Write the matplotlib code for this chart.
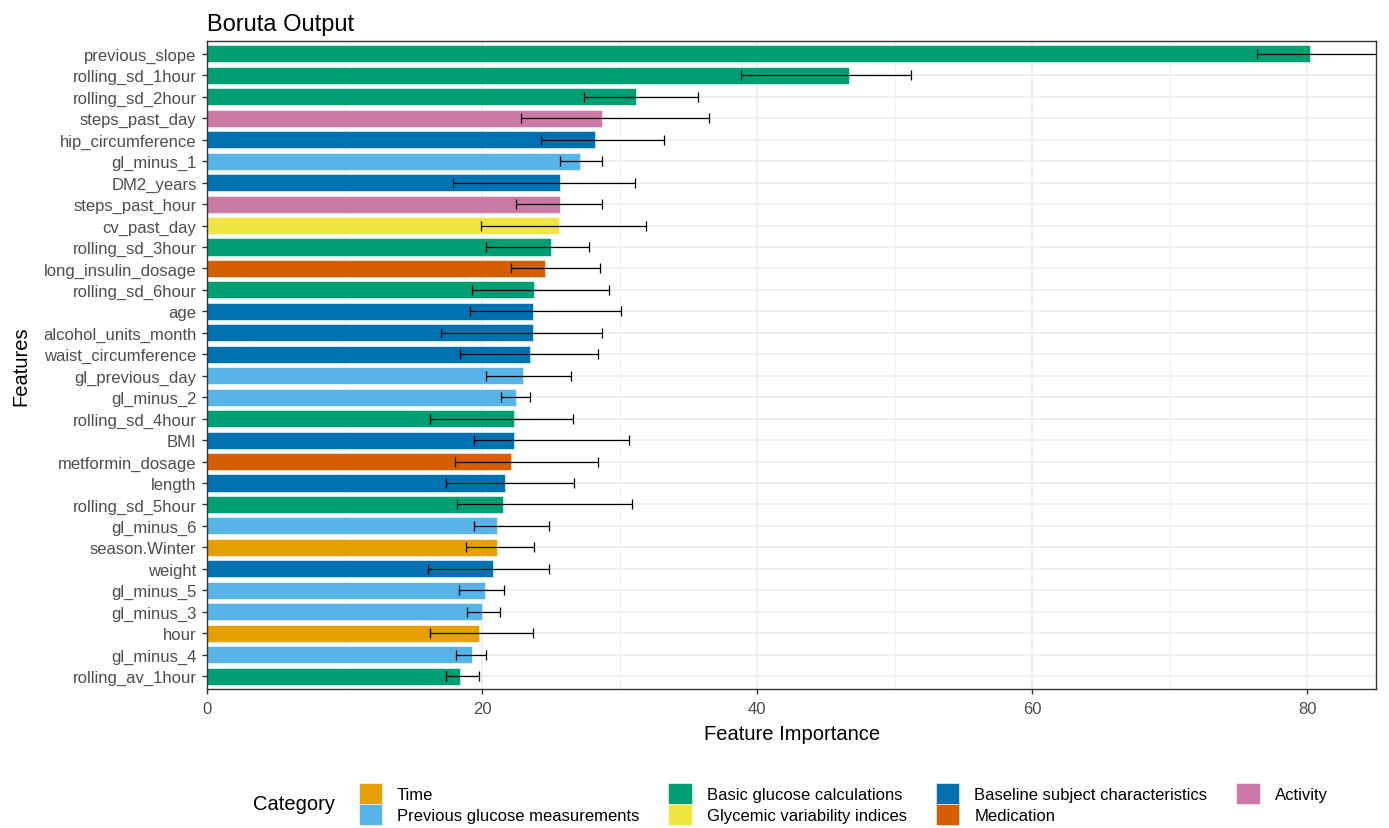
import matplotlib
matplotlib.use("Agg")
import matplotlib.pyplot as plt
from matplotlib.patches import Patch
import numpy as np

plt.rcParams['font.family'] = ['Liberation Sans', 'DejaVu Sans']

# Dados (ordem de cima para baixo)
features = [
    "previous_slope", "rolling_sd_1hour", "rolling_sd_2hour", "steps_past_day",
    "hip_circumference", "gl_minus_1", "DM2_years", "steps_past_hour",
    "cv_past_day", "rolling_sd_3hour", "long_insulin_dosage", "rolling_sd_6hour",
    "age", "alcohol_units_month", "waist_circumference", "gl_previous_day",
    "gl_minus_2", "rolling_sd_4hour", "BMI", "metformin_dosage", "length",
    "rolling_sd_5hour", "gl_minus_6", "season.Winter", "weight", "gl_minus_5",
    "gl_minus_3", "hour", "gl_minus_4", "rolling_av_1hour",
]
importance = [80.2, 46.7, 31.2, 28.7, 28.2, 27.1, 25.7, 25.7, 25.6, 25.0,
              24.6, 23.8, 23.7, 23.7, 23.5, 23.0, 22.5, 22.3, 22.3, 22.1,
              21.7, 21.5, 21.1, 21.1, 20.8, 20.2, 20.0, 19.8, 19.3, 18.4]
err_low = [76.3, 38.8, 27.4, 22.8, 24.3, 25.7, 17.9, 22.5, 19.9, 20.3,
           22.1, 19.3, 19.1, 17.0, 18.4, 20.3, 21.4, 16.2, 19.4, 18.0,
           17.4, 18.2, 19.4, 18.8, 16.1, 18.3, 18.9, 16.2, 18.1, 17.4]
err_high = [90.0, 51.2, 35.7, 36.5, 33.2, 28.7, 31.1, 28.7, 31.9, 27.8,
            28.6, 29.2, 30.1, 28.7, 28.4, 26.5, 23.5, 26.6, 30.7, 28.4,
            26.7, 30.9, 24.9, 23.8, 24.9, 21.6, 21.3, 23.7, 20.3, 19.8]
category = [
    "Basic glucose calculations", "Basic glucose calculations", "Basic glucose calculations", "Activity",
    "Baseline subject characteristics", "Previous glucose measurements", "Baseline subject characteristics", "Activity",
    "Glycemic variability indices", "Basic glucose calculations", "Medication", "Basic glucose calculations",
    "Baseline subject characteristics", "Baseline subject characteristics", "Baseline subject characteristics", "Previous glucose measurements",
    "Previous glucose measurements", "Basic glucose calculations", "Baseline subject characteristics", "Medication", "Baseline subject characteristics",
    "Basic glucose calculations", "Previous glucose measurements", "Time", "Baseline subject characteristics", "Previous glucose measurements",
    "Previous glucose measurements", "Time", "Previous glucose measurements", "Basic glucose calculations",
]

categories = ["Time", "Previous glucose measurements", "Basic glucose calculations",
              "Glycemic variability indices", "Baseline subject characteristics",
              "Medication", "Activity"]
cat_colors = ["#E69F00", "#56B4E9", "#009E73", "#F0E442", "#0072B2", "#D55E00", "#CC79A7"]
color_map = dict(zip(categories, cat_colors))

fig = plt.figure(figsize=(13.89, 8.29), dpi=100)
ax = fig.add_axes([0.149, 0.1677, 0.8418, 0.7816])

n = len(features)
y = np.arange(n)[::-1]
imp = np.array(importance)
lo = imp - np.array(err_low)
hi = np.array(err_high) - imp

ax.barh(y, imp, height=0.8, color=[color_map[c] for c in category],
        edgecolor='white', linewidth=0.4, zorder=2)
ax.errorbar(imp, y, xerr=[lo, hi], fmt='none', ecolor='black',
            elinewidth=0.9, capsize=3.3, capthick=0.9, zorder=3)

ax.set_xlim(0, 85)
ax.set_ylim(-0.6, n - 0.4)
ax.set_yticks(y)
ax.set_yticklabels(features)
ax.set_xticks([0, 20, 40, 60, 80])
ax.set_xticks([10, 30, 50, 70], minor=True)

ax.grid(True, which='major', color='#EBEBEB', linewidth=1.1, zorder=0)
ax.grid(True, which='minor', axis='x', color='#F0F0F0', linewidth=0.7, zorder=0)
ax.set_axisbelow(True)

for s in ax.spines.values():
    s.set_color('#333333')
    s.set_linewidth(1.0)
ax.tick_params(axis='both', which='major', colors='#333333', labelcolor='#4D4D4D',
               labelsize=12, length=3.5, width=1.0)
ax.tick_params(axis='y', which='major', pad=4)
ax.tick_params(axis='x', which='major', pad=5)
ax.tick_params(axis='x', which='minor', length=0)

ax.set_xlabel("Feature Importance", fontsize=14.5, labelpad=6)
ax.set_ylabel("Features", fontsize=14.5, labelpad=9)
ax.set_title("Boruta Output", loc='left', fontsize=17, pad=8)

handles = [Patch(facecolor=c, edgecolor='white', linewidth=0.4) for c in cat_colors]
fig.text(0.182, 0.029, "Category", fontsize=14.5, va='center', ha='left')
fig.legend(handles, categories, ncol=4, loc='center', bbox_to_anchor=(0.607, 0.029),
           frameon=False, fontsize=12, handlelength=1.4, handleheight=1.55,
           handletextpad=0.9, columnspacing=1.75, labelspacing=0.05)

fig.savefig("out.png", dpi=100)
